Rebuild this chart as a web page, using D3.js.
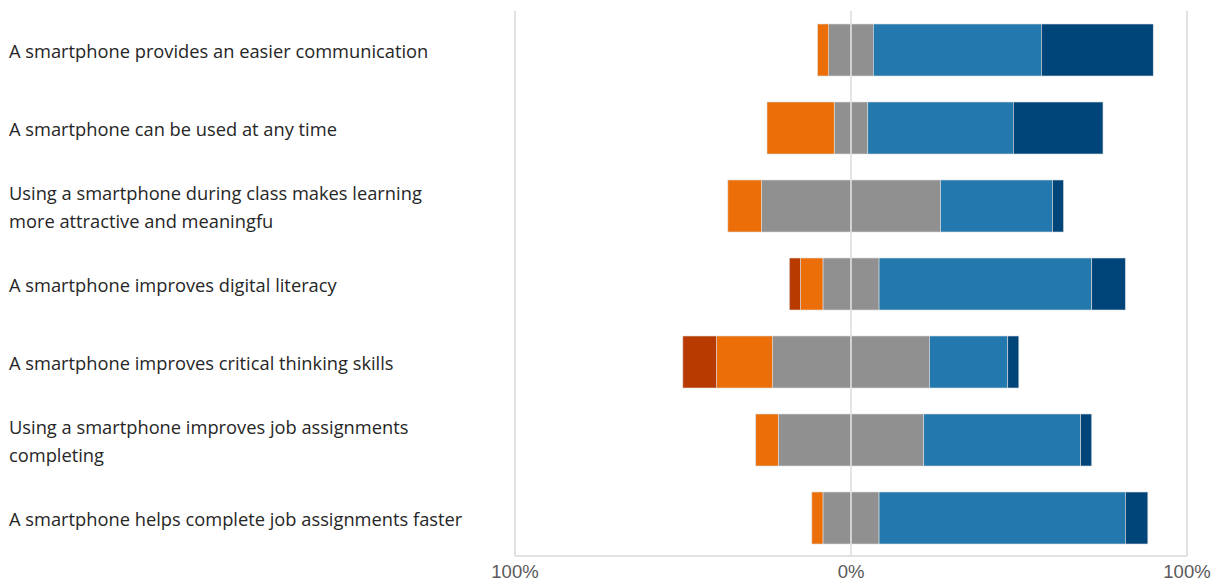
<!DOCTYPE html>
<html>
<head>
<meta charset="utf-8">
<script src="https://cdn.jsdelivr.net/npm/d3@7"></script>
<style>
  html, body { margin: 0; padding: 0; background: #fff; }
  #chart { width: 1219px; height: 581px; overflow: hidden; }
  .etiqueta { font-family: "Open Sans", "Noto Sans", sans-serif; font-size: 18.3px; fill: #262626; }
  .tick-x { font-family: "Liberation Sans", Arial, sans-serif; font-size: 18.5px; fill: #595959; }
</style>
</head>
<body>
<div id="chart"></div>
<script>
// afirmaciones (de arriba hacia abajo)
const afirmaciones = [
  ["A smartphone provides an easier communication"],
  ["A smartphone can be used at any time"],
  ["Using a smartphone during class makes learning", "more attractive and meaningfu"],
  ["A smartphone improves digital literacy"],
  ["A smartphone improves critical thinking skills"],
  ["Using a smartphone improves job assignments", "completing"],
  ["A smartphone helps complete job assignments faster"]
];

// porcentajes por respuesta
const muyDesacuerdo = [0, 0, 0, 3.3, 10.0, 0, 0];
const desacuerdo    = [3.3, 20.0, 10.0, 6.7, 16.7, 6.7, 3.3];
const neutral       = [13.3, 10.0, 53.3, 16.7, 46.7, 43.3, 16.7];
const deAcuerdo     = [50.0, 43.3, 33.3, 63.3, 23.3, 46.7, 73.3];
const muyDeAcuerdo  = [33.3, 26.7, 3.3, 10.0, 3.3, 3.3, 6.7];

const ticksX = [-100, 0, 100];
const colores = ["#B83A00", "#EB6E08", "#909090", "#2378AD", "#00457A"];

const width = 1219;
const height = 581;

const svg = d3.select("#chart")
  .append("svg")
  .attr("width", width)
  .attr("height", height);

const x = d3.scaleLinear().domain([-100, 100]).range([515, 1187]);
const y = d3.scaleBand()
  .domain(d3.range(afirmaciones.length))
  .range([11, 557])
  .paddingInner(1 / 3)
  .paddingOuter(1 / 6);

// segmentos: neutral dividido a la mitad alrededor de 0
function segmentos(i) {
  const mitad = neutral[i] / 2;
  const izq = [
    { v: mitad, c: colores[2] },
    { v: desacuerdo[i], c: colores[1] },
    { v: muyDesacuerdo[i], c: colores[0] }
  ];
  const der = [
    { v: mitad, c: colores[2] },
    { v: deAcuerdo[i], c: colores[3] },
    { v: muyDeAcuerdo[i], c: colores[4] }
  ];
  const out = [];
  let acc = 0;
  izq.forEach(s => { out.push({ x0: -acc - s.v, x1: -acc, c: s.c, v: s.v }); acc += s.v; });
  acc = 0;
  der.forEach(s => { out.push({ x0: acc, x1: acc + s.v, c: s.c, v: s.v }); acc += s.v; });
  return out.filter(s => s.v > 0).map(s => ({ ...s, fila: i }));
}

// grilla lateral y borde inferior
svg.append("g")
  .selectAll("line")
  .data([-100, 100])
  .join("line")
  .attr("x1", d => x(d)).attr("x2", d => x(d))
  .attr("y1", 11).attr("y2", 556)
  .attr("stroke", "#d9d9d9")
  .attr("stroke-width", 1.5);

svg.append("line")
  .attr("x1", x(-100)).attr("x2", x(100))
  .attr("y1", 556).attr("y2", 556)
  .attr("stroke", "#d9d9d9")
  .attr("stroke-width", 1.5);

const datos = afirmaciones.flatMap((_, i) => segmentos(i));

svg.append("g")
  .selectAll("rect")
  .data(datos)
  .join("rect")
  .attr("x", d => x(d.x0))
  .attr("width", d => x(d.x1) - x(d.x0))
  .attr("y", d => y(d.fila))
  .attr("height", y.bandwidth())
  .attr("fill", d => d.c)
  .attr("stroke", "#dedede")
  .attr("stroke-width", 0.6);

// línea de cero encima de las barras
svg.append("line")
  .attr("x1", x(0)).attr("x2", x(0))
  .attr("y1", 11).attr("y2", 556)
  .attr("stroke", "#dcdcdc")
  .attr("stroke-width", 1.5);

// etiquetas de categorías
const etiquetas = svg.append("g")
  .selectAll("text")
  .data(afirmaciones)
  .join("text")
  .attr("class", "etiqueta")
  .attr("x", 9)
  .attr("y", (d, i) => y(i) + y.bandwidth() / 2 - (d.length - 1) * 14)
  .attr("dominant-baseline", "central");

etiquetas.selectAll("tspan")
  .data(d => d)
  .join("tspan")
  .attr("x", 9)
  .attr("dy", (d, j) => j === 0 ? 0 : 28)
  .text(d => d);

// eje x
svg.append("g")
  .selectAll("text")
  .data(ticksX)
  .join("text")
  .attr("class", "tick-x")
  .attr("x", d => x(d))
  .attr("y", 578)
  .attr("text-anchor", "middle")
  .text(d => `${Math.abs(d)}%`);
</script>
</body>
</html>
